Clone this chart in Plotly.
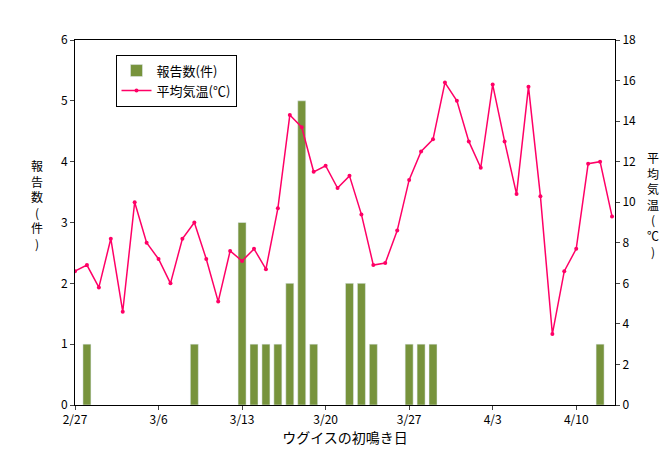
import pandas as pd
import plotly.graph_objects as go

dates = pd.date_range("2009-02-27", "2009-04-13", freq="D")
temps = [6.6, 6.9, 5.8, 8.2, 4.6, 10.0, 8.0, 7.2, 6.0, 8.2, 9.0, 7.2, 5.1, 7.6, 7.1, 7.7,
         6.7, 9.7, 14.3, 13.7, 11.5, 11.8, 10.7, 11.3, 9.4, 6.9, 7.0, 8.6, 11.1, 12.5, 13.1,
         15.9, 15.0, 13.0, 11.7, 15.8, 13.0, 10.4, 15.7, 10.3, 3.5, 6.6, 7.7, 11.9, 12.0, 9.3]
report_days = ["2009-02-28", "2009-03-09", "2009-03-13", "2009-03-14", "2009-03-15", "2009-03-16",
               "2009-03-17", "2009-03-18", "2009-03-19", "2009-03-22", "2009-03-23", "2009-03-24",
               "2009-03-27", "2009-03-28", "2009-03-29", "2009-04-12"]
reports = [1, 1, 3, 1, 1, 1, 2, 5, 1, 2, 2, 1, 1, 1, 1, 1]
tick_days = ["2009-02-27", "2009-03-06", "2009-03-13", "2009-03-20", "2009-03-27", "2009-04-03", "2009-04-10"]
tick_labels = ["2/27", "3/6", "3/13", "3/20", "3/27", "4/3", "4/10"]

font = "Noto Sans CJK JP"
fig = go.Figure()
fig.add_trace(go.Bar(x=report_days, y=reports, name="報告数(件)", marker_color="#77933C",
                     width=0.67 * 86400000))
fig.add_trace(go.Scatter(x=dates, y=temps, name="平均気温(℃)", yaxis="y2", mode="lines+markers",
                         line=dict(color="#FF0066", width=1.5), marker=dict(size=4, color="#FF0066")))

fig.update_layout(
    width=670, height=459, plot_bgcolor="white", paper_bgcolor="white",
    margin=dict(l=67, r=63, t=32, b=62, autoexpand=False),
    font=dict(family=font, size=12, color="black"),
    xaxis=dict(type="date", range=["2009-02-27", "2009-04-13 06:00"], tickvals=tick_days,
               ticktext=tick_labels, showgrid=False, showline=True, linecolor="black", mirror=True,
               ticks="outside", ticklen=4, automargin=False,
               title=dict(text="ウグイスの初鳴き日", standoff=6)),
    yaxis=dict(range=[0, 6], dtick=1, showgrid=False, showline=True, linecolor="black",
               mirror=True, ticks="outside", ticklen=4, zeroline=False, automargin=False),
    yaxis2=dict(range=[0, 18], dtick=2, overlaying="y", side="right", showgrid=False,
                showline=True, linecolor="black", ticks="outside", ticklen=4, zeroline=False,
                automargin=False),
    legend=dict(x=0.075, y=0.96, xanchor="left", yanchor="top", bordercolor="black",
                borderwidth=1, bgcolor="white", tracegroupgap=28, font=dict(size=13)),
    showlegend=True,
)
fig.add_annotation(text="<br>".join("報告数(件)"), x=-0.085, y=0.55, xref="paper", yref="paper",
                   showarrow=False, font=dict(size=12))
fig.add_annotation(text="<br>".join("平均気温(℃)"), x=1.085, y=0.55, xref="paper", yref="paper",
                   showarrow=False, font=dict(size=12))
fig.write_html("out.html")
